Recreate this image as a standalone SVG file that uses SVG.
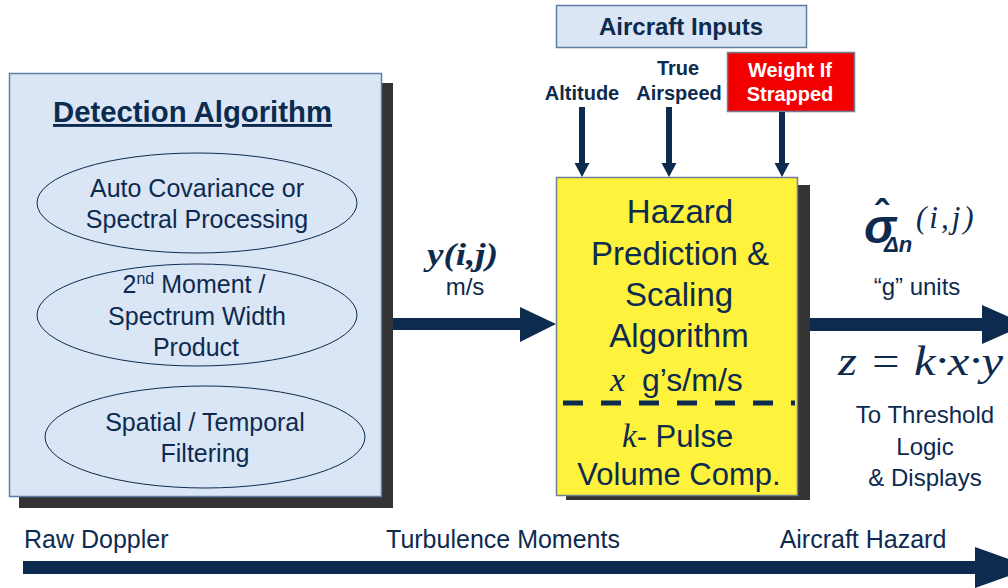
<svg xmlns="http://www.w3.org/2000/svg" width="1008" height="588" viewBox="0 0 1008 588">
<defs>
<style>
.t{font-family:"Liberation Sans",Arial,sans-serif;fill:#0d2a4f}
.b{font-weight:bold}
.m{font-family:"Liberation Serif","Times New Roman",serif;font-style:italic;fill:#0d2a4f}
.shadow{fill:#333333}
.ell{fill:none;stroke:#0d2a4f;stroke-width:1}
.nav{fill:#0d2a4f}
</style>
</defs>
<rect width="1008" height="588" fill="#ffffff"/>

<g id="detection">
<rect class="shadow" x="19" y="83" width="374" height="425"/>
<rect x="9.5" y="73.5" width="372" height="423" fill="#dae6f5" stroke="#5f7ea3" stroke-width="1.5"/>
<text class="t b" x="53" y="122" font-size="29" textLength="279" lengthAdjust="spacingAndGlyphs" text-decoration="underline">Detection Algorithm</text>
</g>

<g id="ellipse1">
<ellipse class="ell" cx="197" cy="203" rx="160" ry="50"/>
<text class="t" x="197" y="197" font-size="25" text-anchor="middle">Auto Covariance or</text>
<text class="t" x="197" y="228" font-size="25" text-anchor="middle">Spectral Processing</text>
</g>

<g id="ellipse2">
<ellipse class="ell" cx="197" cy="315" rx="160" ry="51"/>
<text class="t" x="194" y="293" font-size="25" text-anchor="middle">2<tspan font-size="16" dy="-9">nd</tspan><tspan dy="9"> Moment /</tspan></text>
<text class="t" x="197" y="325" font-size="25" text-anchor="middle">Spectrum Width</text>
<text class="t" x="196" y="356" font-size="25" text-anchor="middle">Product</text>
</g>

<g id="ellipse3">
<ellipse class="ell" cx="205" cy="437" rx="160" ry="51"/>
<text class="t" x="205" y="431" font-size="25" text-anchor="middle">Spatial / Temporal</text>
<text class="t" x="205" y="462" font-size="25" text-anchor="middle">Filtering</text>
</g>

<g id="aircraft-inputs">
<rect x="556.5" y="5.5" width="250" height="42" fill="#dae6f5" stroke="#5f7ea3" stroke-width="1.5"/>
<text class="t b" x="681" y="35" font-size="24" text-anchor="middle">Aircraft Inputs</text>
</g>

<g id="altitude">
<text class="t b" x="582" y="100" font-size="20" text-anchor="middle">Altitude</text>
</g>
<g id="airspeed">
<text class="t b" x="678" y="75" font-size="20" text-anchor="middle">True</text>
<text class="t b" x="679" y="100" font-size="20" text-anchor="middle">Airspeed</text>
</g>
<g id="weight">
<rect x="727.5" y="52.5" width="127" height="59" fill="#f20000" stroke="#6f7f98" stroke-width="1.5"/>
<text x="790" y="77" font-size="20" text-anchor="middle" font-family="Liberation Sans,Arial,sans-serif" font-weight="bold" fill="#ffffff">Weight If</text>
<text x="790" y="101" font-size="20" text-anchor="middle" font-family="Liberation Sans,Arial,sans-serif" font-weight="bold" fill="#ffffff">Strapped</text>
</g>

<g id="hazard">
<rect class="shadow" x="566" y="185" width="244" height="315"/>
<rect x="556.5" y="177.5" width="241" height="318" fill="#fff23c" stroke="#6f7f98" stroke-width="1.5"/>
<text class="t" x="680" y="223" font-size="33" text-anchor="middle">Hazard</text>
<text class="t" x="680" y="265" font-size="33" text-anchor="middle">Prediction &amp;</text>
<text class="t" x="679" y="306" font-size="33" text-anchor="middle">Scaling</text>
<text class="t" x="679" y="347" font-size="33" text-anchor="middle">Algorithm</text>
<text x="610" y="391" font-size="32"><tspan class="m" font-size="34">x</tspan><tspan class="t" x="642">g’s/m/s</tspan></text>
<line x1="563" y1="403" x2="795" y2="403" stroke="#0d2a4f" stroke-width="5" stroke-dasharray="20 18"/>
<text x="622" y="447" font-size="31"><tspan class="m" font-size="33">k</tspan><tspan class="t">- Pulse</tspan></text>
<text class="t" x="679" y="485" font-size="31" text-anchor="middle">Volume Comp.</text>
</g>

<g id="connectors">
<rect class="nav" x="579" y="107" width="6" height="57"/>
<polygon class="nav" points="574.5,163 589.5,163 582,177"/>
<rect class="nav" x="666" y="107" width="6" height="57"/>
<polygon class="nav" points="661.5,163 676.5,163 669,177"/>
<rect class="nav" x="779" y="112" width="6" height="52"/>
<polygon class="nav" points="774.5,163 789.5,163 782,177"/>
<rect class="nav" x="393" y="318" width="128" height="12"/>
<polygon class="nav" points="520,307 556,324 520,342"/>
<rect class="nav" x="810" y="318" width="173" height="13"/>
<polygon class="nav" points="982,305 1026,324.5 982,344"/>
<rect class="nav" x="23" y="561" width="953" height="13"/>
<polygon class="nav" points="975,547 1032,567.5 975,588"/>
</g>

<g id="y-label">
<text class="m b" x="427" y="265" font-size="31" textLength="71" lengthAdjust="spacingAndGlyphs">y(i,j)</text>
<text class="t" x="465" y="295" font-size="24" text-anchor="middle">m/s</text>
</g>

<g id="sigma-label">
<text class="t b" font-style="italic"><tspan x="864" y="243" font-size="48">σ</tspan><tspan x="875" y="229" font-size="40" font-style="normal">ˆ</tspan><tspan x="884" y="252" font-size="22">Δn</tspan><tspan class="m" x="916" y="228" font-size="31" font-weight="normal" letter-spacing="3">(i,j)</tspan></text>
<text class="t" x="917" y="295" font-size="24" text-anchor="middle">“g” units</text>
<text class="m" x="838" y="375" font-size="42" textLength="165" lengthAdjust="spacingAndGlyphs">z = k·x·y</text>
<text class="t" x="925" y="423" font-size="24" text-anchor="middle">To Threshold</text>
<text class="t" x="925" y="455" font-size="24" text-anchor="middle">Logic</text>
<text class="t" x="925" y="486" font-size="24" text-anchor="middle">&amp; Displays</text>
</g>

<g id="stages">
<text class="t" x="24" y="548" font-size="25">Raw Doppler</text>
<text class="t" x="503" y="548" font-size="25" text-anchor="middle">Turbulence Moments</text>
<text class="t" x="863" y="548" font-size="25" text-anchor="middle">Aircraft Hazard</text>
</g>
</svg>
